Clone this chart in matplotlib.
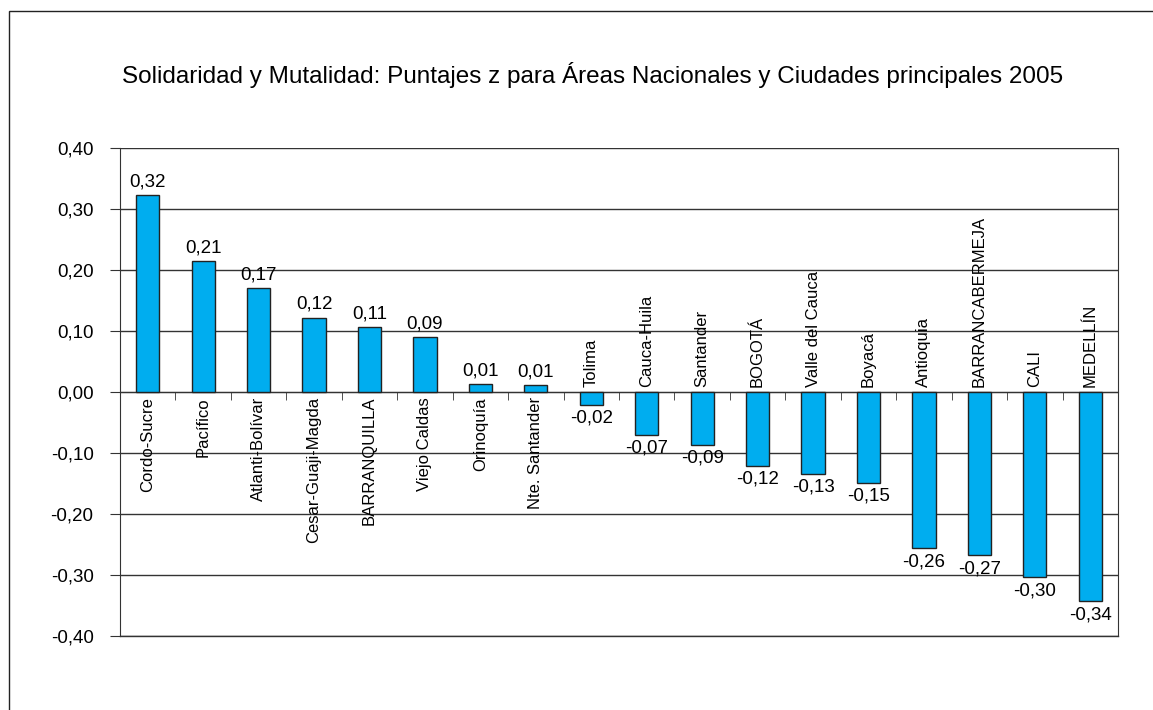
import matplotlib.pyplot as plt
import numpy as np
from matplotlib.patches import Rectangle

plt.rcParams['font.family'] = ['Liberation Sans', 'DejaVu Sans']

regiones = ['Cordo-Sucre', 'Pacífico', 'Atlanti-Bolívar', 'Cesar-Guaji-Magda',
            'BARRANQUILLA', 'Viejo Caldas', 'Orinoquía', 'Nte. Santander',
            'Tolima', 'Cauca-Huila', 'Santander', 'BOGOTÁ', 'Valle del Cauca',
            'Boyacá', 'Antioquia', 'BARRANCABERMEJA', 'CALI', 'MEDELLÍN']
puntajes = [0.323, 0.214, 0.170, 0.122, 0.106, 0.090, 0.013, 0.011,
            -0.021, -0.070, -0.087, -0.121, -0.134, -0.149,
            -0.256, -0.268, -0.304, -0.343]
yticks = [-0.4, -0.3, -0.2, -0.1, 0.0, 0.1, 0.2, 0.3, 0.4]

titulo = 'Solidaridad y Mutalidad: Puntajes z para Áreas Nacionales y Ciudades principales 2005'


def coma(v):
    return f'{v:.2f}'.replace('.', ',')


fig = plt.figure(figsize=(11.53, 7.10), dpi=100)
ax = fig.add_axes([120/1153, 1-636/710, (1118-120)/1153, (636-148)/710])

# marco exterior
fig.patches.append(Rectangle((9/1153, -0.1), 1.2, 1.1-11/710, transform=fig.transFigure,
                             fill=False, edgecolor='#222222', linewidth=1.0))

x = np.arange(len(regiones))
ax.bar(x, puntajes, width=0.42, color='#00ADEF', edgecolor='#222222', linewidth=1.0, zorder=3)

ax.set_xlim(-0.5, len(regiones) - 0.5)
ax.set_ylim(-0.4, 0.4)
ax.set_yticks(yticks)
ax.set_yticklabels([coma(v) for v in yticks], fontsize=13.5)
ax.yaxis.grid(True, color='#333333', linewidth=1.0)
ax.axhline(-0.4, color='#333333', linewidth=1.0, clip_on=False)
ax.set_axisbelow(True)
ax.tick_params(axis='y', direction='out', length=7, color='#333333', pad=12)

ax.spines['bottom'].set_position(('data', 0))
ax.spines['top'].set_visible(False)
for s in ['left', 'right', 'bottom']:
    ax.spines[s].set_color('#333333')
ax.set_xticks([])
ax.set_xticks(np.arange(-0.5, len(regiones)), minor=True)
ax.tick_params(axis='x', which='minor', direction='out', length=6, color='#333333')

for xi, v, nom in zip(x, puntajes, regiones):
    if v >= 0:
        ax.text(xi, v + 0.008, coma(v), ha='center', va='bottom', fontsize=13.5)
        ax.text(xi, -0.008, nom, ha='center', va='top', rotation=90, fontsize=12)
    else:
        ax.text(xi, v - 0.008, coma(v), ha='center', va='top', fontsize=13.5)
        ax.text(xi, 0.008, nom, ha='center', va='bottom', rotation=90, fontsize=12)

fig.text(593/1153, 1-75/710, titulo, ha='center', va='center', fontsize=17.5)

fig.savefig('out.png', dpi=100)
